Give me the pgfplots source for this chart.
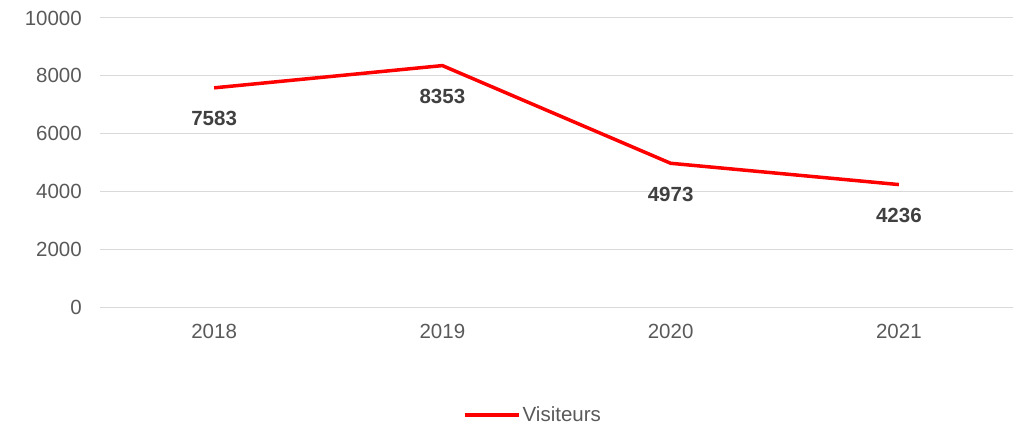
\documentclass[border=0pt]{standalone}
\usepackage{fontspec}
\setmainfont{Liberation Sans}
\usepackage{pgfplots}
\pgfplotsset{compat=1.18}
\definecolor{tickgray}{HTML}{595959}
\definecolor{labgray}{HTML}{404040}
\definecolor{gridgray}{HTML}{D9D9D9}
\begin{document}
\begin{tikzpicture}
\useasboundingbox (0,0) rectangle (1015bp,426bp);
\begin{axis}[
  at={(100bp,119bp)}, anchor=south west,
  scale only axis, width=913bp, height=289bp,
  xmin=-0.5, xmax=3.5, ymin=0, ymax=10000,
  xtick={0,1,2,3}, xticklabels={2018,2019,2020,2021},
  ytick={0,2000,4000,6000,8000,10000},
  scaled ticks=false,
  /pgf/number format/1000 sep={},
  /pgf/number format/assume math mode=true,
  axis line style={draw=none},
  major tick length=0pt,
  ymajorgrids, grid style={gridgray, line width=1pt},
  tick label style={font=\fontsize{20.5bp}{24bp}\selectfont, text=tickgray, inner sep=0pt},
  yticklabel style={anchor=east, xshift=-18bp},
  xticklabel style={anchor=north, yshift=-17bp},
  legend style={at={(0.474,-0.374)}, anchor=center, draw=none, fill=none,
    font=\fontsize{20.5bp}{24bp}\selectfont, text=tickgray,
    legend cell align=left, inner sep=0pt},
  legend image post style={line width=4bp},
  legend image code/.code={\draw[#1] (0bp,0bp) -- (54bp,0bp);},
  nodes near coords,
  every node near coord/.append style={anchor=north, inner sep=0pt, yshift=-22bp,
    font=\bfseries\fontsize{20.5bp}{24bp}\selectfont, text=labgray},
  point meta=explicit symbolic,
]
\addplot[color={rgb,255:red,255;green,0;blue,0}, line width=3.5bp, mark=none]
  coordinates {(0,7583)[7583] (1,8353)[8353] (2,4973)[4973] (3,4236)[4236]};
\addlegendentry{Visiteurs}
\end{axis}
\end{tikzpicture}
\end{document}
